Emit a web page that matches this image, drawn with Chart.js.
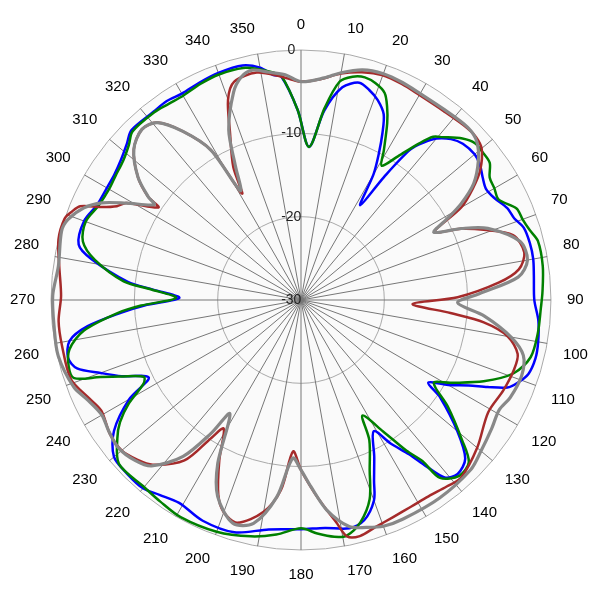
<!DOCTYPE html>
<html lang="en">
<head>
<meta charset="UTF-8">
<title>Antenna pattern</title>
<script src="https://cdn.jsdelivr.net/npm/chart.js@4.4.0/dist/chart.umd.min.js"></script>
<style>
  html, body { margin: 0; padding: 0; background: #fff; }
  #wrap { width: 600px; height: 600px; }
</style>
</head>
<body>
<div id="wrap"><canvas id="myChart"></canvas></div>
<script>
// angle in degrees (0 = top, clockwise) and level in dB
const blueDeg = [3,7,11,15,18,21,24,26,28,30,32,34,36,38,40,43,46,50,53,56,59,62,66,69,72,76,80,84,90,95,100,104,108,111,113,115,117,120,123,125,130,134,138,141,143,145,148,151,155,158,160,164,168,174,180,188,196,204,211,216,220,225,230,235,240,243,247,250,253,256,260,263,266,268,271,274,276,281,284,290,295,300,304,308,312,315,322,326,330,335,340,346,350,353,355,359];
const blueDb  = [-11.6,-7.1,-4.0,-3.0,-3.5,-4.3,-5.6,-7.7,-10.1,-12.6,-16.6,-12.2,-7.7,-6.0,-4.7,-3.6,-3.0,-2.8,-3.1,-3.7,-4.1,-3.8,-2.9,-2.6,-1.9,-1.7,-1.7,-1.9,-2.0,-1.4,-1.1,-1.0,-1.3,-2.2,-3.1,-5.3,-7.4,-9.6,-11.8,-9.6,-5.5,-2.6,-1.9,-2.6,-5.0,-7.4,-9.7,-12.0,-9.2,-6.6,-4.4,-2.5,-2.0,-2.5,-2.5,-2.2,-1.0,-1.0,-1.6,-1.1,-0.5,-0.5,-0.7,-2.6,-6.2,-9.5,-6.6,-4.4,-1.9,-1.2,-1.8,-4.2,-8.4,-11.2,-15.4,-12.2,-9.1,-4.4,-2.5,-2.3,-3.0,-3.1,-3.0,-2.6,-1.9,-1.2,-1.3,-1.2,-1.4,-1.2,-1.0,-1.0,-1.7,-2.8,-3.1,-7.2];

const greenDeg = [3,7,10,13,16,19,22,24,26,29,31,34,37,39,41,45,48,51,54,57,60,63,67,70,73,76,82,88,92,98,104,109,114,119,122,126,131,134,138,142,143,145,148,152,154,158,161,165,169,172,176,180,186,192,200,209,215,220,228,233,236,239,242,244,247,249,251,254,258,262,266,268,271,274,276,281,285,290,295,300,304,308,312,315,322,326,330,335,340,346,350,353,355,359];
const greenDb  = [-11.6,-6.8,-3.4,-2.5,-2.2,-2.5,-3.2,-4.6,-6.4,-9.5,-11.2,-9.2,-6.5,-4.8,-4.1,-2.6,-1.9,-1.9,-2.0,-3.0,-3.2,-3.4,-1.9,-1.7,-1.3,-0.7,-0.7,-1.0,-1.2,-1.3,-1.6,-3.0,-6.0,-9.5,-11.2,-8.2,-4.4,-2.0,-1.6,-2.9,-5.8,-7.9,-11.4,-14.3,-11.3,-8.0,-4.7,-2.4,-1.2,-1.3,-1.9,-2.6,-1.7,-1.0,-0.4,-0.2,-0.5,-0.7,-0.6,-2.4,-3.8,-5.9,-8.6,-9.0,-6.5,-4.2,-1.2,-1.0,-1.6,-3.7,-8.0,-10.8,-15.0,-12.0,-8.6,-4.8,-2.9,-2.5,-3.2,-3.4,-3.2,-2.9,-2.2,-1.4,-1.4,-1.6,-1.7,-1.4,-1.2,-1.3,-1.9,-2.5,-3.0,-7.2];

const redDeg = [0,5,10,15,20,25,30,37,44,47,50,54,57,60,63,66,69,73,78,82,85,89,92,95,97,100,104,108,114,121,130,138,142,147,152,157,162,166,169,171,173,176,180,183,186,190,196,200,203,207,211,213,216,222,226,230,235,241,245,251,259,265,271,278,284,289,291,293,295,297,299,303,304,307,312,317,321,325,329,331,333,337,340,343,349,355,358];
const redDb  = [-3.8,-3.4,-2.4,-1.7,-1.3,-1.4,-1.6,-1.6,-1.3,-1.3,-1.7,-3.4,-5.4,-7.8,-12.0,-9.0,-6.5,-3.4,-2.6,-3.6,-6.2,-11.2,-16.6,-12.0,-7.9,-4.8,-3.2,-3.1,-3.4,-3.8,-2.4,-1.3,-1.6,-1.9,-1.9,-1.7,-1.3,-0.8,-1.1,-3.0,-4.6,-6.8,-9.6,-11.8,-7.1,-4.2,-2.2,-2.9,-4.6,-8.4,-12.0,-10.3,-6.2,-3.4,-2.5,-1.9,-2.0,-2.6,-2.0,-0.8,-0.8,-0.8,-1.2,-0.7,0,0,-0.5,-1.2,-3.6,-5.2,-6.0,-9.6,-7.9,-5.5,-3.0,-2.0,-2.6,-5.3,-9.0,-15.4,-12.1,-8.2,-4.4,-2.6,-2.2,-3.1,-3.6];

const grayDeg = [0,6,10,15,20,25,30,37,44,48,52,56,59,61,63,66,69,75,80,84,88,91,95,100,104,109,115,119,124,130,135,145,155,160,164,168,173,177,180,183,187,192,197,203,207,212,214,217,222,226,231,236,240,245,249,257,264,271,278,286,289,293,296,299,303,304,307,312,317,321,325,329,331,334,337,342,345,348,352,356];
const grayDb  = [-3.8,-3.2,-2.3,-1.4,-1.1,-1.2,-1.4,-1.4,-1.2,-1.6,-3.0,-5.0,-7.6,-10.0,-12.1,-8.9,-6.0,-2.8,-2.4,-3.8,-8.6,-11.2,-7.9,-4.4,-2.5,-2.0,-2.3,-2.8,-2.4,-1.8,-1.2,-1.0,-1.0,-1.1,-1.6,-2.2,-4.6,-7.6,-9.6,-11.0,-6.2,-2.6,-2.0,-4.4,-8.0,-13.9,-10.7,-6.5,-3.2,-2.3,-1.8,-2.1,-2.4,-1.7,-0.8,-0.1,-0.2,-0.2,-0.6,-0.1,-0.4,-1.7,-3.4,-6.0,-9.0,-7.9,-5.5,-3.0,-2.0,-2.6,-5.3,-9.0,-15.0,-12.0,-7.8,-3.8,-2.3,-1.8,-2.4,-2.9];

const ringTicks = [-30, -20, -10, 0];
const labelStep = 10;

const degrees = [];
for (let d = 0; d < 360; d++) degrees.push(d);

function toSeries(deg, db) {
  const out = new Array(360).fill(null);
  deg.forEach((d, i) => { out[d % 360] = db[i]; });
  return out;
}

function line(label, color, width, deg, db) {
  return {
    label: label,
    data: toSeries(deg, db),
    borderColor: color,
    backgroundColor: color,
    borderWidth: width,
    fill: false,
    pointRadius: 0,
    spanGaps: true,
    tension: 0.3
  };
}

const ctx = document.getElementById('myChart').getContext('2d');
new Chart(ctx, {
  type: 'radar',
  data: {
    labels: degrees,
    datasets: [
      line('gray', '#888888', 3.2, grayDeg, grayDb),
      line('red', '#a52a2a', 2.5, redDeg, redDb),
      line('green', '#008000', 2.5, greenDeg, greenDb),
      line('blue', '#0000ff', 2.5, blueDeg, blueDb)
    ]
  },
  options: {
    responsive: true,
    maintainAspectRatio: false,
    animation: false,
    layout: { padding: 9 },
    plugins: { legend: { display: false }, tooltip: { enabled: false } },
    scales: {
      r: {
        min: ringTicks[0],
        max: ringTicks[ringTicks.length - 1],
        startAngle: 0,
        backgroundColor: '#fafafa',
        ticks: {
          stepSize: 10,
          showLabelBackdrop: false,
          color: '#222',
          font: { family: 'Arial', size: 14 },
          callback: v => v + '     '
        },
        grid: { circular: true, color: '#aaaaaa', lineWidth: 1 },
        angleLines: {
          color: c => c.index % labelStep === 0 ? '#777777' : 'rgba(0,0,0,0)',
          lineWidth: c => c.index % labelStep === 0 ? 1 : 0
        },
        pointLabels: {
          color: '#000',
          padding: 7,
          font: { family: 'Arial', size: 15 },
          callback: (label, index) => index % labelStep === 0 ? String(label) : ''
        }
      }
    }
  }
});
</script>
</body>
</html>
